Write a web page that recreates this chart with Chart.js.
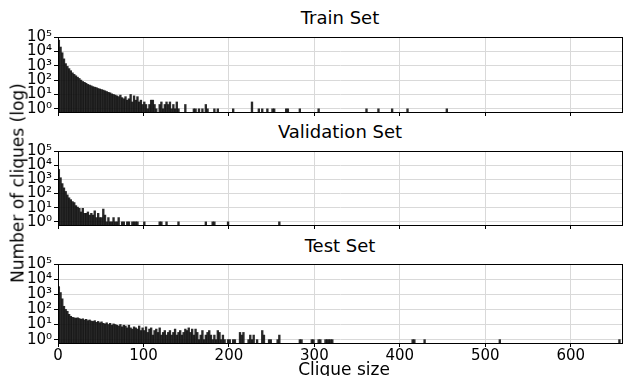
<!DOCTYPE html>
<html>
<head>
<meta charset="utf-8">
<script src="https://cdn.jsdelivr.net/npm/chart.js@4.4.1/dist/chart.umd.min.js"></script>
<style>
  body { margin: 0; background: #fff; }
  #wrap { position: relative; width: 624px; height: 376px; overflow: hidden; font-family: "DejaVu Sans", sans-serif; }
  .box { position: absolute; left: 0; width: 624px; }
  .title { position: absolute; left: 58px; width: 564px; text-align: center; font-size: 18px; line-height: 18px; color: #000; }
  #ylab { position: absolute; left: 18px; top: 183px; font-size: 17px; line-height: 17px; white-space: nowrap;
          transform: translate(-50%, -50%) rotate(-90deg); }
  #xlab { position: absolute; left: 62px; width: 564px; top: 361px; text-align: center; font-size: 17px; line-height: 17px; }
</style>
</head>
<body>
<div id="wrap">
  <div class="title" style="top:9px">Train Set</div>
  <div class="title" style="top:123px">Validation Set</div>
  <div class="title" style="top:237px">Test Set</div>
  <div class="box" style="top:26px;height:97px"><canvas id="train"></canvas></div>
  <div class="box" style="top:140px;height:96px"><canvas id="valid"></canvas></div>
  <div class="box" style="top:253px;height:112px"><canvas id="test"></canvas></div>
  <div id="ylab">Number of cliques (log)</div>
  <div id="xlab">Clique size</div>
</div>
<script>
// histogram bins (start of each bin, width 2) and counts
const binWidth = 2;

const trainSizes = [0,2,4,6,8,10,12,14,16,18,20,22,24,26,28,30,32,34,36,38,40,42,44,46,48,50,
  52,54,56,58,60,62,64,66,68,70,72,74,76,78,80,82,84,86,88,90,92,94,96,98,100,
  102,104,106,108,110,112,114,118,120,122,124,126,128,130,132,134,136,138,140,148,158,160,164,168,
  172,174,182,186,204,226,234,238,244,250,252,266,268,282,304,360,374,390,408,454];
const trainCounts = [60000,20000,8000,3000,1400,900,630,450,320,250,200,160,130,100,80,70,60,50,45,40,35,32,30,26,24,22,
  20,18,16,14,13,11,10,9,8,7,9,6,5,7,4,5,10,3,8,4,7,3,4,2,3,
  2,1,2,4,4,2,1,2,3,1,2,3,2,3,1,2,1,3,1,2,1,1,1,1,
  2,1,1,1,1,3,1,1,1,1,1,1,1,1,1,1,1,1,1,1];

const validSizes = [0,2,4,6,8,10,12,14,16,18,20,22,24,26,28,30,32,34,36,38,40,42,44,46,48,50,
  52,54,56,58,60,62,64,66,68,70,74,76,80,82,86,88,90,92,100,118,120,126,140,172,180,182,198,258];
const validCounts = [5000,1300,500,250,140,80,50,37,27,23,14,11,9,5,9,4,4,5,3,4,3,6,2,4,2,2,
  8,3,1,2,1,1,2,1,1,2,1,1,1,1,1,1,1,1,1,1,1,1,1,1,1,1,1,1];

const testSizes = [0,2,4,6,8,10,12,14,16,18,20,22,24,26,28,30,32,34,36,38,40,42,44,46,48,50,
  52,54,56,58,60,62,64,66,68,70,72,74,76,78,80,82,84,86,88,90,92,94,96,98,100,
  102,104,106,108,110,112,114,116,118,120,122,124,126,128,130,132,134,136,138,140,
  142,144,146,148,150,152,154,156,158,160,162,164,166,168,170,172,174,176,178,180,
  182,184,186,188,190,192,194,198,200,204,206,212,214,216,222,224,226,228,232,238,240,
  246,248,256,258,282,284,296,298,304,306,312,314,316,318,320,414,416,428,516,656];
const testCounts = [3200,1300,500,160,100,75,47,35,30,28,26,28,25,22,24,20,22,18,20,17,16,18,14,16,13,15,
  12,11,13,10,12,9,11,10,9,8,10,7,9,8,6,9,6,5,7,6,5,8,4,6,4,
  7,3,5,6,2,4,5,3,6,2,3,4,2,3,4,2,3,5,2,3,
  4,2,3,5,4,6,3,5,2,5,3,1,2,4,1,2,3,4,2,1,
  2,1,4,3,1,2,1,1,1,1,1,3,2,3,1,2,1,2,1,4,2,
  1,1,1,2,1,1,1,1,1,1,1,1,1,1,1,1,1,1,1,1];

const xTicks = [0, 100, 200, 300, 400, 500, 600];
const yTicks = [1, 10, 100, 1000, 10000, 100000];
const sup = ['⁰','¹','²','³','⁴','⁵'];

Chart.defaults.font.family = "'DejaVu Sans', sans-serif";
Chart.defaults.color = '#000';

const frame = {
  id: 'frame',
  afterDraw(chart) {
    const a = chart.chartArea;
    const ctx = chart.ctx;
    ctx.save();
    ctx.strokeStyle = '#000';
    ctx.lineWidth = 1;
    ctx.strokeRect(Math.round(a.left) + 0.5, Math.round(a.top) + 0.5,
      Math.round(a.right - a.left), Math.round(a.bottom - a.top));
    ctx.restore();
  }
};

function makeHist(id, sizes, counts, showLabels) {
  const points = sizes.map((s, i) => ({ x: s + binWidth / 2, y: counts[i] }));
  new Chart(document.getElementById(id), {
    type: 'bar',
    data: {
      datasets: [{
        data: points,
        backgroundColor: 'rgba(12,12,12,0.88)',
        borderWidth: 0,
        barPercentage: 1,
        categoryPercentage: 1
      }]
    },
    options: {
      responsive: true,
      maintainAspectRatio: false,
      animation: false,
      layout: { padding: { top: 2, right: 2, left: 0, bottom: 0 } },
      plugins: { legend: { display: false }, tooltip: { enabled: false } },
      scales: {
        x: {
          type: 'linear',
          min: 0,
          max: 660,
          offset: false,
          afterBuildTicks: s => { s.ticks = xTicks.map(v => ({ value: v })); },
          afterFit: s => { s.height = showLabels ? 22 : 6; },
          ticks: {
            font: { size: 15 },
            padding: 0,
            maxRotation: 0,
            autoSkip: false,
            callback: v => showLabels ? String(v) : ''
          },
          grid: { offset: false, color: '#d9d9d9', tickColor: '#000', tickLength: 4 },
          border: { color: '#000' }
        },
        y: {
          type: 'logarithmic',
          min: 0.6,
          max: 100000,
          afterBuildTicks: s => { s.ticks = yTicks.map(v => ({ value: v })); },
          afterFit: s => { s.width = 58; },
          ticks: {
            font: { size: 15 },
            padding: 2,
            autoSkip: false,
            callback: v => '10' + sup[Math.round(Math.log10(v))]
          },
          grid: { color: '#d9d9d9', tickColor: '#000', tickLength: 4 },
          border: { color: '#000' }
        }
      }
    },
    plugins: [frame]
  });
}

makeHist('train', trainSizes, trainCounts, false);
makeHist('valid', validSizes, validCounts, false);
makeHist('test', testSizes, testCounts, true);
</script>
</body>
</html>
